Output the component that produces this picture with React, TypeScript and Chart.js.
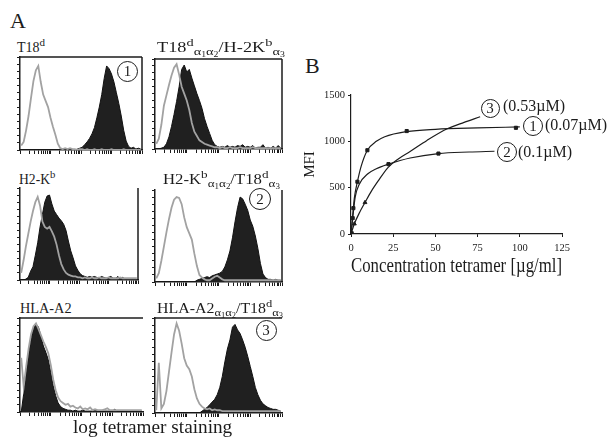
import React, { useEffect, useLayoutEffect, useRef } from "react";
import { Chart, registerables } from "chart.js";
Chart.register(...registerables);

const SERIF = '"Liberation Serif", "Times New Roman", serif';
const INK = "#1c1c1c";
const GRAY = "#a2a2a2";

// ---------- Panel A: flow-cytometry histograms (50 log-spaced channels, 4 decades) ----------
const BIN_COUNT = 50;
const DECADES = 4;

// T18d
const p1Gray = [5, 9, 22, 38, 58, 77, 89, 94, 76, 62, 55, 48, 36, 26, 17, 7, 2, 1, 2, 1, 2, 1, 1, 0, 1, 1, 0, 1, 0, 0, 1, 0, 0, 1, 0, 0, 0, 1, 0, 0, 0, 0, 1, 0, 0, 0, 0, 0, 0, 0];
const p1Black = [0, 0, 0, 0, 0, 0, 0, 0, 0, 0, 0, 0, 0, 0, 0, 0, 0, 0, 0, 0, 0, 0, 0, 1, 2, 3, 6, 9, 13, 18, 25, 36, 48, 62, 80, 94, 91, 85, 76, 64, 52, 38, 22, 10, 4, 2, 3, 1, 2, 1];
// T18d a1a2 / H-2Kb a3
const p2Gray = [6, 12, 28, 50, 62, 74, 85, 94, 98, 86, 72, 64, 56, 45, 30, 20, 15, 10, 8, 6, 5, 4, 3, 2, 2, 1, 2, 1, 1, 2, 1, 1, 1, 2, 1, 1, 1, 1, 2, 1, 1, 1, 1, 1, 1, 1, 1, 1, 1, 1];
const p2Black = [0, 0, 1, 2, 6, 14, 26, 40, 55, 72, 92, 97, 89, 92, 82, 73, 64, 56, 47, 35, 26, 18, 10, 5, 3, 2, 3, 2, 4, 2, 3, 2, 4, 3, 5, 2, 3, 2, 4, 1, 2, 2, 5, 1, 2, 1, 3, 1, 4, 1];
// H2-Kb
const p3Gray = [8, 22, 38, 52, 66, 78, 88, 94, 84, 66, 60, 58, 60, 55, 49, 40, 28, 18, 12, 8, 6, 5, 4, 4, 3, 3, 2, 3, 2, 2, 3, 2, 2, 3, 2, 2, 2, 3, 2, 2, 2, 2, 3, 2, 2, 2, 2, 2, 2, 2];
const p3Black = [0, 0, 1, 3, 10, 15, 28, 42, 60, 74, 88, 95, 96, 86, 78, 74, 70, 67, 63, 56, 44, 33, 25, 16, 11, 7, 5, 4, 3, 4, 3, 4, 3, 2, 4, 3, 2, 3, 4, 2, 2, 4, 1, 3, 1, 0, 0, 0, 0, 0];
// H2-Kb a1a2 / T18d a3
const p4Gray = [4, 10, 24, 40, 56, 71, 84, 93, 96, 95, 88, 73, 62, 55, 48, 32, 18, 8, 5, 3, 2, 2, 4, 6, 7, 5, 3, 2, 2, 2, 2, 2, 2, 2, 2, 2, 2, 2, 2, 2, 2, 2, 2, 2, 2, 2, 2, 2, 2, 2];
const p4Black = [0, 0, 0, 0, 0, 0, 0, 0, 0, 0, 0, 0, 0, 0, 0, 0, 2, 3, 4, 5, 6, 5, 7, 8, 9, 10, 12, 17, 25, 35, 50, 68, 84, 96, 94, 88, 81, 70, 63, 52, 38, 21, 9, 5, 3, 3, 2, 3, 2, 2];
// HLA-A2
const p5Gray = [60, 28, 50, 70, 86, 95, 98, 92, 85, 78, 72, 65, 52, 36, 24, 16, 12, 10, 8, 9, 6, 7, 5, 4, 6, 3, 4, 3, 5, 2, 3, 2, 2, 2, 3, 4, 2, 2, 2, 2, 2, 2, 2, 2, 2, 2, 2, 2, 2, 2];
const p5Black = [0, 20, 45, 64, 82, 93, 97, 94, 84, 73, 66, 58, 44, 29, 18, 10, 6, 4, 3, 2, 2, 1, 2, 1, 1, 2, 1, 1, 1, 1, 2, 1, 1, 1, 1, 1, 1, 1, 3, 1, 1, 1, 1, 1, 1, 1, 1, 1, 1, 1];
// HLA-A2 a1a2 / T18d a3
const p6Gray = [3, 55, 5, 10, 24, 45, 66, 86, 98, 90, 76, 60, 52, 48, 40, 26, 16, 10, 7, 5, 4, 5, 3, 4, 3, 3, 2, 2, 2, 2, 2, 2, 2, 2, 2, 2, 2, 2, 2, 2, 2, 2, 2, 2, 2, 2, 2, 2, 2, 2];
const p6Black = [0, 0, 0, 0, 0, 0, 0, 0, 0, 0, 0, 0, 0, 0, 0, 0, 0, 0, 2, 4, 6, 9, 12, 15, 20, 28, 40, 56, 70, 80, 94, 97, 91, 87, 80, 72, 62, 51, 40, 28, 20, 14, 10, 8, 6, 5, 4, 4, 3, 2];

// ---------- Panel B: MFI vs tetramer concentration ----------
const xTickStep = 25;
const yTickStep = 500;
const conc1 = [0.4, 1.4, 3.8, 9.7, 33, 97.7];
const mfi1 = [8, 279, 564, 904, 1111, 1146];
const fitConc1 = [0, 1, 2, 3.8, 6, 9.7, 15, 20, 33, 50, 75, 100];
const fitMfi1 = [0, 200, 390, 564, 730, 904, 1000, 1050, 1105, 1130, 1145, 1155];

const conc2 = [1, 22.2, 51.8];
const mfi2 = [171, 754, 868];
const fitConc2 = [0, 1, 2.5, 5, 10, 15, 22.2, 35, 51.8, 70, 85];
const fitMfi2 = [0, 171, 400, 540, 650, 705, 754, 820, 868, 885, 893];

const conc3 = [2, 8.3];
const mfi3 = [110, 340];
const fitConc3 = [0, 2, 5, 8.3, 12, 16, 22, 28, 35, 45, 57, 67, 76.5];
const fitMfi3 = [0, 110, 230, 340, 460, 570, 720, 810, 890, 1010, 1135, 1205, 1265];

// ---------- helpers ----------
const logTicks: number[] = [];
for (let d = 0; d < DECADES; d++) {
  for (let k = 1; k < 10; k++) logTicks.push(((d + Math.log10(k)) * BIN_COUNT) / DECADES);
}
logTicks.push(BIN_COUNT);

const toPoints = (vals: number[]) => vals.map((v, i) => ({ x: i + 0.5, y: v }));
const zip = (xs: number[], ys: number[]) => xs.map((x, i) => ({ x, y: ys[i] }));

const framePlugin = {
  id: "frame",
  afterDraw(chart: any, _args: any, opts: any) {
    const { ctx, chartArea: a } = chart;
    ctx.save();
    ctx.strokeStyle = INK;
    ctx.lineWidth = 1.5;
    ctx.beginPath();
    if (opts.top) {
      ctx.moveTo(a.left, a.top);
      ctx.lineTo(a.right, a.top);
    }
    if (opts.right) {
      ctx.moveTo(a.right, a.top);
      ctx.lineTo(a.right, a.bottom);
    }
    ctx.stroke();
    ctx.restore();
  },
};

type HistProps = {
  frame: number[];
  black: number[];
  gray: number[];
  top: boolean;
  right: boolean;
};

function Histogram({ frame, black, gray, top, right }: HistProps) {
  const ref = useRef<HTMLCanvasElement>(null);
  const [L, T, W, H] = frame;
  const yAxisW = 4;
  const xAxisH = 5;
  useEffect(() => {
    const chart = new Chart(ref.current as HTMLCanvasElement, {
      type: "line",
      data: {
        datasets: [
          {
            data: toPoints(gray),
            borderColor: GRAY,
            borderWidth: 1.8,
            pointRadius: 0,
            fill: false,
            tension: 0,
            order: 0,
          },
          {
            data: toPoints(black),
            borderColor: "#111",
            backgroundColor: "#202020",
            borderWidth: 1,
            pointRadius: 0,
            fill: "origin",
            tension: 0,
            order: 1,
          },
        ],
      },
      options: {
        animation: false,
        responsive: false,
        events: [],
        layout: { padding: { top: 1, right: 1, left: 0, bottom: 0 } },
        plugins: {
          legend: { display: false },
          tooltip: { enabled: false },
          frame: { top, right },
        } as any,
        scales: {
          x: {
            type: "linear",
            min: 0,
            max: BIN_COUNT,
            afterBuildTicks: (s: any) => {
              s.ticks = logTicks.map((value) => ({ value }));
            },
            ticks: { display: false },
            grid: { drawOnChartArea: false, tickLength: 4, color: INK, lineWidth: 1 },
            border: { color: INK, width: 1.5 },
            afterFit: (s: any) => {
              s.height = xAxisH;
            },
          },
          y: {
            min: 0,
            max: 104,
            ticks: { display: false, stepSize: 8 },
            grid: { drawOnChartArea: false, tickLength: 3, color: INK, lineWidth: 1 },
            border: { color: INK, width: 1.5 },
            afterFit: (s: any) => {
              s.width = yAxisW;
            },
          },
        },
      } as any,
      plugins: [framePlugin as any],
    });
    return () => chart.destroy();
  }, []);
  return (
    <canvas
      ref={ref}
      width={W + yAxisW + 1}
      height={H + 1 + xAxisH}
      style={{ position: "absolute", left: L - yAxisW, top: T - 1 }}
    />
  );
}

function DoseResponse() {
  const ref = useRef<HTMLCanvasElement>(null);
  useEffect(() => {
    const lineDs = (xs: number[], ys: number[]) => ({
      data: zip(xs, ys),
      showLine: true,
      borderColor: INK,
      borderWidth: 1.2,
      pointRadius: 0,
      cubicInterpolationMode: "monotone",
      fill: false,
    });
    const ptDs = (xs: number[], ys: number[], style: string) => ({
      data: zip(xs, ys),
      showLine: false,
      pointStyle: style,
      pointRadius: 2.2,
      backgroundColor: INK,
      borderColor: INK,
      borderWidth: 1,
    });
    const plainTick = (v: any) => String(v);
    const chart = new Chart(ref.current as HTMLCanvasElement, {
      type: "scatter",
      data: {
        datasets: [
          lineDs(fitConc1, fitMfi1),
          lineDs(fitConc2, fitMfi2),
          lineDs(fitConc3, fitMfi3),
          ptDs(conc1, mfi1, "rect"),
          ptDs(conc2, mfi2, "rect"),
          ptDs(conc3, mfi3, "triangle"),
        ] as any,
      },
      options: {
        animation: false,
        responsive: false,
        events: [],
        layout: { padding: { top: 10, right: 22, left: 0, bottom: 0 } },
        plugins: { legend: { display: false }, tooltip: { enabled: false } },
        scales: {
          x: {
            type: "linear",
            min: 0,
            max: 125,
            ticks: { stepSize: xTickStep, color: INK, font: { family: SERIF, size: 10.5 }, padding: 5, callback: plainTick },
            grid: { drawOnChartArea: false, tickLength: 3, color: INK },
            border: { color: INK, width: 1.2 },
            title: {
              display: true,
              text: "Concentration tetramer [µg/ml]",
              color: INK,
              font: { family: SERIF, size: 21 },
              padding: { top: 0, bottom: 0 },
            },
            afterFit: (s: any) => {
              s.height = 45;
            },
          },
          y: {
            min: 0,
            max: 1500,
            ticks: { stepSize: yTickStep, color: INK, font: { family: SERIF, size: 10.5 }, padding: 3, callback: plainTick },
            grid: { drawOnChartArea: false, tickLength: 3, color: INK },
            border: { color: INK, width: 1.2 },
            title: {
              display: true,
              text: "MFI",
              color: INK,
              font: { family: SERIF, size: 15 },
              padding: { top: 1, bottom: 0 },
            },
            afterFit: (s: any) => {
              s.width = 51;
            },
          },
        },
      } as any,
    });
    return () => chart.destroy();
  }, []);
  return <canvas ref={ref} width={284} height={194} style={{ position: "absolute", left: 300, top: 85 }} />;
}

function Label({ x, baseline, size, children, fitWidth }: any) {
  const ref = useRef<HTMLDivElement>(null);
  useLayoutEffect(() => {
    const el = ref.current;
    if (!el || !fitWidth) return;
    const w = el.scrollWidth;
    if (w > 0) el.style.transform = `scaleX(${fitWidth / w})`;
  }, [fitWidth]);
  return (
    <div
      ref={ref}
      style={{
        position: "absolute",
        left: x,
        top: baseline - 0.8375 * size,
        fontSize: size,
        lineHeight: `${size}px`,
        whiteSpace: "nowrap",
        transformOrigin: "left center",
      }}
    >
      {children}
    </div>
  );
}

function Circled({ cx, cy, d, size, children }: any) {
  return (
    <div
      style={{
        position: "absolute",
        left: cx - d / 2,
        top: cy - d / 2,
        width: d,
        height: d,
        border: `1.4px solid ${INK}`,
        borderRadius: "50%",
        boxSizing: "border-box",
        display: "flex",
        alignItems: "center",
        justifyContent: "center",
        fontSize: size,
        lineHeight: `${size}px`,
      }}
    >
      {children}
    </div>
  );
}

const Sup = ({ children }: any) => (
  <span style={{ fontSize: 11, position: "relative", top: -6 }}>{children}</span>
);
const Sub = ({ children }: any) => (
  <span style={{ fontSize: 11, position: "relative", top: 3 }}>{children}</span>
);
const Tiny = ({ children }: any) => (
  <span style={{ fontSize: 7.5, position: "relative", top: 2 }}>{children}</span>
);
const A12 = () => (
  <Sub>
    α<Tiny>1</Tiny>α<Tiny>2</Tiny>
  </Sub>
);
const A3 = () => (
  <Sub>
    α<Tiny>3</Tiny>
  </Sub>
);

const PANELS = [
  { frame: [20, 57, 122, 93], black: p1Black, gray: p1Gray, top: true, right: true, tx: 17, tb: 53, tw: 28,
    title: <>T18<Sup>d</Sup></> },
  { frame: [155, 59, 127, 90], black: p2Black, gray: p2Gray, top: true, right: true, tx: 157, tb: 53, tw: 128,
    title: <>T18<Sup>d</Sup><A12 />/H-2K<Sup>b</Sup><A3 /></> },
  { frame: [20, 188, 118, 92], black: p3Black, gray: p3Gray, top: false, right: true, tx: 19, tb: 185, tw: 36,
    title: <>H2-K<Sup>b</Sup></> },
  { frame: [155, 190, 127, 92], black: p4Black, gray: p4Gray, top: false, right: true, tx: 163, tb: 185, tw: 117,
    title: <>H2-K<Sup>b</Sup><A12 />/T18<Sup>d</Sup><A3 /></> },
  { frame: [20, 318, 123, 94], black: p5Black, gray: p5Gray, top: true, right: false, tx: 20, tb: 314, tw: 52,
    title: <>HLA-A2</> },
  { frame: [155, 318, 127, 95], black: p6Black, gray: p6Gray, top: true, right: false, tx: 157, tb: 314, tw: 126,
    title: <>HLA-A2<A12 />/T18<Sup>d</Sup><A3 /></> },
];

export default function App() {
  return (
    <div
      style={{
        position: "fixed",
        left: 0,
        top: 0,
        width: 615,
        height: 443,
        background: "#fff",
        overflow: "hidden",
        fontFamily: SERIF,
        color: INK,
      }}
    >
      <Label x={10} baseline={28} size={22}>A</Label>
      <Label x={305} baseline={73} size={22}>B</Label>
      {PANELS.map((p, i) => (
        <React.Fragment key={i}>
          <Histogram frame={p.frame} black={p.black} gray={p.gray} top={p.top} right={p.right} />
          <Label x={p.tx} baseline={p.tb} size={14} fitWidth={p.tw}>
            {p.title}
          </Label>
        </React.Fragment>
      ))}
      <Circled cx={127.5} cy={71} d={21} size={15}>1</Circled>
      <Circled cx={260} cy={199} d={22} size={15}>2</Circled>
      <Circled cx={266} cy={330} d={21} size={15}>3</Circled>
      <Label x={73} baseline={433} size={19} fitWidth={159}>log tetramer staining</Label>
      <DoseResponse />
      <Circled cx={490} cy={108} d={19} size={15}>3</Circled>
      <Label x={503} baseline={111} size={16}>(0.53µM)</Label>
      <Circled cx={533} cy={126} d={20} size={15}>1</Circled>
      <Label x={545} baseline={130.5} size={16}>(0.07µM)</Label>
      <Circled cx={507} cy={152} d={20} size={15}>2</Circled>
      <Label x={518} baseline={157} size={16}>(0.1µM)</Label>
    </div>
  );
}
